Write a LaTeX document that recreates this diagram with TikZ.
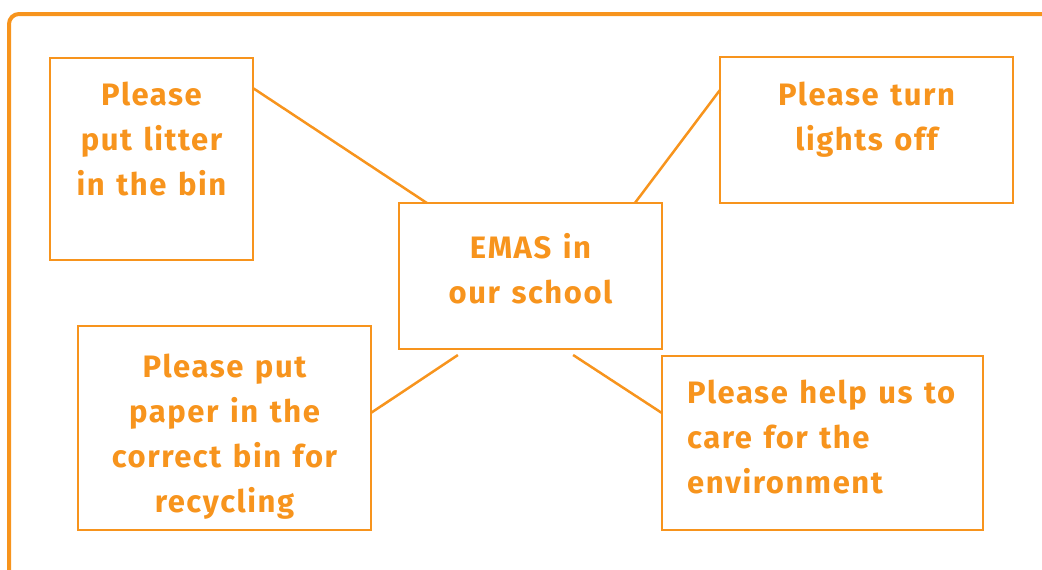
\documentclass[tikz,border=0pt]{standalone}
\usepackage{fontspec}
\setmainfont{Fira Sans}[LetterSpace=5, WordSpace=1.3]
\usetikzlibrary{calc}
\definecolor{emasorange}{HTML}{F7941D}
\tikzset{
  box/.style={draw=emasorange, line width=2.5pt, rectangle, inner sep=0pt, outer sep=0pt},
  msg/.style={text=emasorange, inner sep=0pt, font=\fontsize{31}{45}\selectfont\bfseries},
  link/.style={draw=emasorange, line width=2.5pt}
}
\begin{document}
\begin{tikzpicture}[x=1pt, y=-1pt]
  \useasboundingbox (0,0) rectangle (1042,570);
  \draw[emasorange, line width=4pt, rounded corners=10pt] (9,600) -- (9,14) -- (1080,14);
  \node[box, minimum width=203pt, minimum height=202pt] (litter) at (151.5,159) {};
  \node[box, minimum width=293pt, minimum height=146pt] (lights) at (866.5,130) {};
  \node[box, minimum width=263pt, minimum height=146pt] (emas) at (530.5,276) {};
  \node[box, minimum width=293pt, minimum height=204pt] (paper) at (224.5,428) {};
  \node[box, minimum width=321pt, minimum height=174pt] (care) at (822.5,443) {};
  \node[msg, align=center, anchor=north] (litterText) at (151.5,82) {Please\\put litter\\in the bin};
  \node[msg, align=center, anchor=north] (lightsText) at (866.5,82) {Please turn\\lights off};
  \node[msg, align=center, anchor=north] (emasText) at (530.5,233) {EMAS in\\our school};
  \node[msg, align=center, anchor=north] (paperText) at (224.5,354) {Please put\\paper in the\\correct bin for\\recycling};
  \node[msg, align=left, anchor=north west] (careText) at (687,380) {Please help us to\\care for the\\environment};
  \coordinate (emasLL) at ($(emas.south west)!0.224!(emas.south east)+(0,6)$);
  \coordinate (emasLR) at ($(emas.south west)!0.662!(emas.south east)+(0,6)$);
  \draw[link] ($(litter.north east)!0.149!(litter.south east)$) -- ($(emas.north west)!0.106!(emas.north east)$);
  \draw[link] ($(lights.north west)!0.226!(lights.south west)$) -- ($(emas.north west)!0.897!(emas.north east)$);
  \draw[link] ($(paper.north east)!0.426!(paper.south east)$) -- (emasLL);
  \draw[link] ($(care.north west)!0.328!(care.south west)$) -- (emasLR);
\end{tikzpicture}
\end{document}
